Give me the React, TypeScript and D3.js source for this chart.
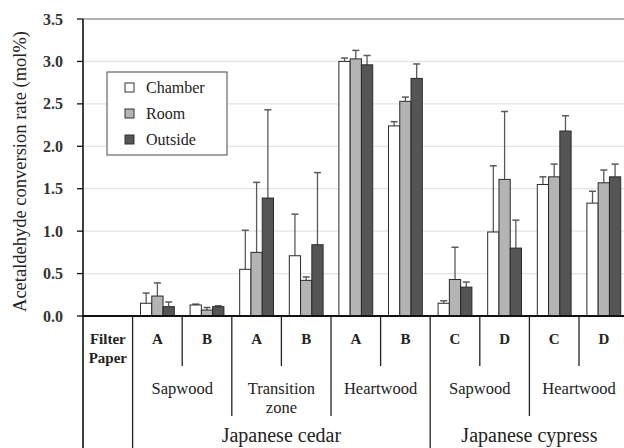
import React from "react";
import * as d3 from "d3";

const groups = ["Filter Paper", "Cedar Sap A", "Cedar Sap B", "Cedar Trans A", "Cedar Trans B", "Cedar Heart A", "Cedar Heart B", "Cypress Sap C", "Cypress Sap D", "Cypress Heart C", "Cypress Heart D"];
const series = ["Chamber", "Room", "Outside"];
const chamber = [0, 0.15, 0.13, 0.55, 0.71, 3.0, 2.24, 0.15, 0.99, 1.55, 1.33];
const chamberErr = [0, 0.27, 0.14, 1.01, 1.2, 3.04, 2.29, 0.18, 1.77, 1.64, 1.47];
const room = [0, 0.235, 0.07, 0.75, 0.42, 3.03, 2.53, 0.43, 1.61, 1.64, 1.57];
const roomErr = [0, 0.39, 0.1, 1.575, 0.46, 3.13, 2.58, 0.81, 2.41, 1.79, 1.72];
const outside = [0, 0.11, 0.11, 1.39, 0.84, 2.96, 2.8, 0.34, 0.8, 2.18, 1.64];
const outsideErr = [0, 0.165, 0.12, 2.43, 1.69, 3.07, 2.97, 0.4, 1.13, 2.36, 1.79];
const yTicks = [0, 0.5, 1.0, 1.5, 2.0, 2.5, 3.0, 3.5];
const row1Labels = ["", "A", "B", "A", "B", "A", "B", "C", "D", "C", "D"];
const level2 = [
  { label: ["Sapwood"], from: 1, to: 3 },
  { label: ["Transition", "zone"], from: 3, to: 5 },
  { label: ["Heartwood"], from: 5, to: 7 },
  { label: ["Sapwood"], from: 7, to: 9 },
  { label: ["Heartwood"], from: 9, to: 11 },
];
const level3 = [
  { label: "Japanese cedar", from: 1, to: 7 },
  { label: "Japanese cypress", from: 7, to: 11 },
];

const values = [chamber, room, outside];
const errs = [chamberErr, roomErr, outsideErr];
const fills = ["#ffffff", "#b4b4b4", "#555555"];

export default function App() {
  const W = 624, H = 448;
  const x0 = 83, gw = 49.6;
  const yTop = 19, yBot = 316;
  const x = d3.scaleLinear().domain([0, groups.length]).range([x0, x0 + gw * groups.length]);
  const xs = d3.scaleBand<number>().domain([0, 1, 2]).range([0, gw]).paddingInner(0).paddingOuter(0.7);
  const y = d3.scaleLinear().domain([0, 3.5]).range([yBot, yTop]);
  const font = "Liberation Serif, Times New Roman, serif";
  const bx = (i: number) => x(i);
  const bw = xs.bandwidth();

  return (
    <svg width={W} height={H} style={{ position: "absolute", left: 0, top: 0, background: "#fff" }} fontFamily={font}>
      <rect x={0} y={0} width={W} height={H} fill="#fff" />
      {yTicks.filter((t) => t > 0 && t < 3.5).map((t) => (
        <line key={t} x1={x0} x2={W} y1={y(t)} y2={y(t)} stroke="#e4e4e4" strokeWidth={1.2} />
      ))}
      <line x1={x0} x2={W} y1={y(3.5)} y2={y(3.5)} stroke="#999" strokeWidth={1.5} />
      {groups.map((g, i) =>
        series.map((s, k) => {
          const v = values[k][i];
          if (v <= 0) return null;
          const bxx = bx(i) + (xs(k) as number);
          const cx = bxx + bw / 2;
          const e = errs[k][i];
          return (
            <g key={g + s}>
              <line x1={cx} x2={cx} y1={y(v)} y2={y(e)} stroke="#5a5a5a" strokeWidth={1.3} />
              <line x1={cx - 3.5} x2={cx + 3.5} y1={y(e)} y2={y(e)} stroke="#5a5a5a" strokeWidth={1.5} />
              <rect x={bxx} y={y(v)} width={bw} height={yBot - y(v)} fill={fills[k]} stroke="#2a2a2a" strokeWidth={1} />
            </g>
          );
        })
      )}
      <line x1={x0} x2={x0} y1={yTop} y2={H} stroke="#111" strokeWidth={1.6} />
      {yTicks.map((t) => (
        <g key={t}>
          <line x1={x0 - 6} x2={x0} y1={y(t)} y2={y(t)} stroke="#111" strokeWidth={1.3} />
          <text x={63} y={y(t)} dy="0.35em" textAnchor="end" fontSize={16} fontWeight="bold" fill="#333">
            {t.toFixed(1)}
          </text>
        </g>
      ))}
      <text transform={`translate(20,${(yTop + yBot) / 2 + 4}) rotate(-90)`} textAnchor="middle" dy="0.35em" fontSize={18.5} fill="#222">
        Acetaldehyde conversion rate (mol%)
      </text>
      <line x1={x0} x2={W} y1={yBot} y2={yBot} stroke="#111" strokeWidth={1.8} />
      {[1, 7].map((i) => (
        <line key={"f" + i} x1={bx(i)} x2={bx(i)} y1={yBot} y2={H} stroke="#222" strokeWidth={1.3} />
      ))}
      {[3, 5, 9].map((i) => (
        <line key={"m" + i} x1={bx(i)} x2={bx(i)} y1={yBot} y2={416} stroke="#222" strokeWidth={1.3} />
      ))}
      {[2, 4, 6, 8, 10].map((i) => (
        <line key={"s" + i} x1={bx(i)} x2={bx(i)} y1={yBot} y2={366} stroke="#222" strokeWidth={1.3} />
      ))}
      <text x={bx(0) + gw / 2} y={339} dy="0.35em" textAnchor="middle" fontSize={15} fontWeight="bold" fill="#222">Filter</text>
      <text x={bx(0) + gw / 2} y={358} dy="0.35em" textAnchor="middle" fontSize={15} fontWeight="bold" fill="#222">Paper</text>
      {row1Labels.map((l, i) =>
        l ? (
          <text key={"r" + i} x={bx(i) + gw / 2} y={339} dy="0.35em" textAnchor="middle" fontSize={15} fontWeight="bold" fill="#222">
            {l}
          </text>
        ) : null
      )}
      {level2.map((d, j) => {
        const cx = (bx(d.from) + bx(d.to)) / 2;
        return d.label.map((l, li) => (
          <text key={"l2" + j + li} x={cx} y={388 + li * 19} dy="0.35em" textAnchor="middle" fontSize={16.5} fill="#222">
            {l}
          </text>
        ));
      })}
      {level3.map((d, j) => (
        <text key={"l3" + j} x={(bx(d.from) + bx(d.to)) / 2} y={435} dy="0.35em" textAnchor="middle" fontSize={20} fill="#222">
          {d.label}
        </text>
      ))}
      <rect x={107} y={72} width={120} height={83} fill="#fff" stroke="#666" strokeWidth={1.2} />
      {series.map((s, k) => (
        <g key={"lg" + s}>
          <rect x={125} y={83 + k * 26} width={9} height={9} fill={fills[k]} stroke="#333" strokeWidth={1} />
          <text x={146} y={87.5 + k * 26} dy="0.35em" fontSize={16} fill="#222">
            {s}
          </text>
        </g>
      ))}
    </svg>
  );
}
